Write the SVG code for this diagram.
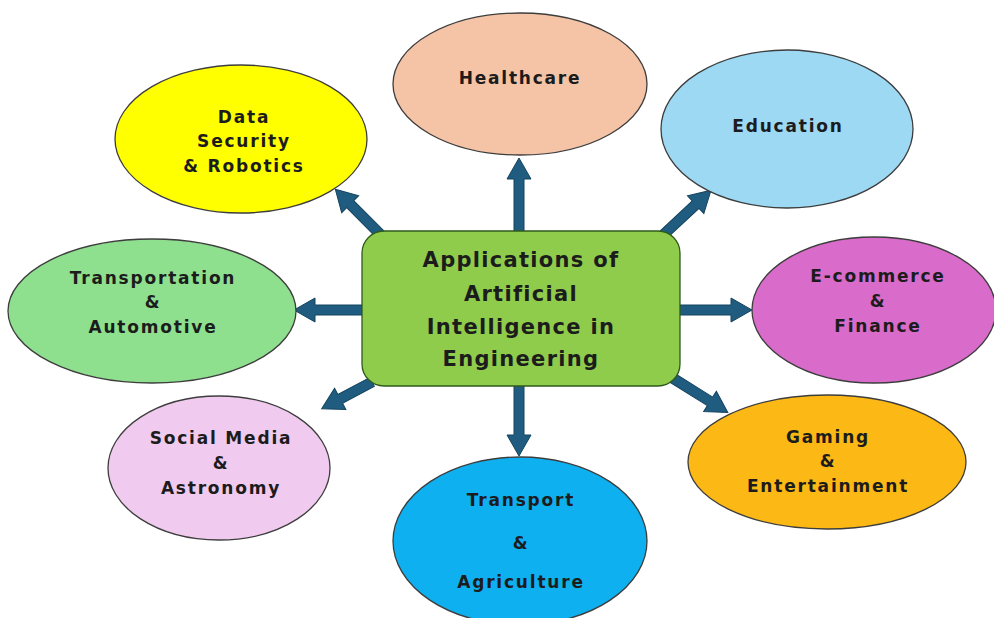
<svg xmlns="http://www.w3.org/2000/svg" width="994" height="618" viewBox="0 0 994 618">
<style>
.n{stroke:#3d3d3d;stroke-width:1.3}
.t{font-family:"DejaVu Sans",sans-serif;font-weight:bold;font-size:17px;letter-spacing:1.8px;fill:#1c1c1c;text-anchor:middle}
.c{font-size:21px;letter-spacing:1.3px}
.a{fill:#1f5c80;stroke:#15445f;stroke-width:1}
</style>
<rect width="994" height="618" fill="#ffffff"/>
<g id="connectors">
<path class="a" d="M0,-5 L53,-5 L53,-12 L74,0 L53,12 L53,5 L0,5 Z" transform="translate(519,232) rotate(-90)"/>
<path class="a" d="M0,-5 L50,-5 L50,-12 L71,0 L50,12 L50,5 L0,5 Z" transform="translate(519,385) rotate(90)"/>
<path class="a" d="M0,-5 L48,-5 L48,-12 L69,0 L48,12 L48,5 L0,5 Z" transform="translate(363,310) rotate(180)"/>
<path class="a" d="M0,-5 L52,-5 L52,-12 L73,0 L52,12 L52,5 L0,5 Z" transform="translate(679,310)"/>
<path class="a" d="M0,-5 L45,-5 L45,-12 L66,0 L45,12 L45,5 L0,5 Z" transform="translate(382,236) rotate(-135)"/>
<path class="a" d="M0,-5 L46,-5 L46,-12 L67,0 L46,12 L46,5 L0,5 Z" transform="translate(662,236) rotate(-43)"/>
<path class="a" d="M0,-5 L36,-5 L36,-12 L57,0 L36,12 L36,5 L0,5 Z" transform="translate(372,382) rotate(152)"/>
<path class="a" d="M0,-5 L46,-5 L46,-12 L67,0 L46,12 L46,5 L0,5 Z" transform="translate(671,377) rotate(32)"/>
</g>
<g id="healthcare"><ellipse class="n" cx="520" cy="84" rx="127" ry="71" fill="#f5c4a7"/><text class="t" x="520" y="84">Healthcare</text></g>
<g id="data-security"><ellipse class="n" cx="241" cy="139" rx="126" ry="74" fill="#ffff00"/><text class="t" x="244" y="123">Data</text><text class="t" x="244" y="147">Security</text><text class="t" x="244" y="172">&amp; Robotics</text></g>
<g id="education"><ellipse class="n" cx="787" cy="129" rx="126" ry="79" fill="#9ed9f4"/><text class="t" x="788" y="132">Education</text></g>
<g id="transportation"><ellipse class="n" cx="152" cy="311" rx="144" ry="72" fill="#8ee08f"/><text class="t" x="153" y="284">Transportation</text><text class="t" x="153" y="308">&amp;</text><text class="t" x="153" y="333">Automotive</text></g>
<g id="ecommerce"><ellipse class="n" cx="874" cy="310" rx="122" ry="73" fill="#d96bcb"/><text class="t" x="878" y="282">E-commerce</text><text class="t" x="878" y="307">&amp;</text><text class="t" x="878" y="332">Finance</text></g>
<g id="social-media"><ellipse class="n" cx="219" cy="468" rx="111" ry="72" fill="#f1cbef"/><text class="t" x="221" y="444">Social Media</text><text class="t" x="221" y="469">&amp;</text><text class="t" x="221" y="494">Astronomy</text></g>
<g id="gaming"><ellipse class="n" cx="827" cy="462" rx="139" ry="67" fill="#fcb814"/><text class="t" x="828" y="443">Gaming</text><text class="t" x="828" y="467">&amp;</text><text class="t" x="828" y="492">Entertainment</text></g>
<g id="transport-agriculture"><ellipse class="n" cx="520" cy="541" rx="127" ry="84" fill="#0eb0ef"/><text class="t" x="521" y="506">Transport</text><text class="t" x="521" y="549">&amp;</text><text class="t" x="521" y="588">Agriculture</text></g>
<g id="center"><rect x="362" y="231" width="318" height="155" rx="22" fill="#8fcc4c" stroke="#2f5a1c" stroke-width="1.3"/><text class="t c" x="521" y="267">Applications of</text><text class="t c" x="521" y="301">Artificial</text><text class="t c" x="521" y="334">Intelligence in</text><text class="t c" x="521" y="366">Engineering</text></g>
</svg>
